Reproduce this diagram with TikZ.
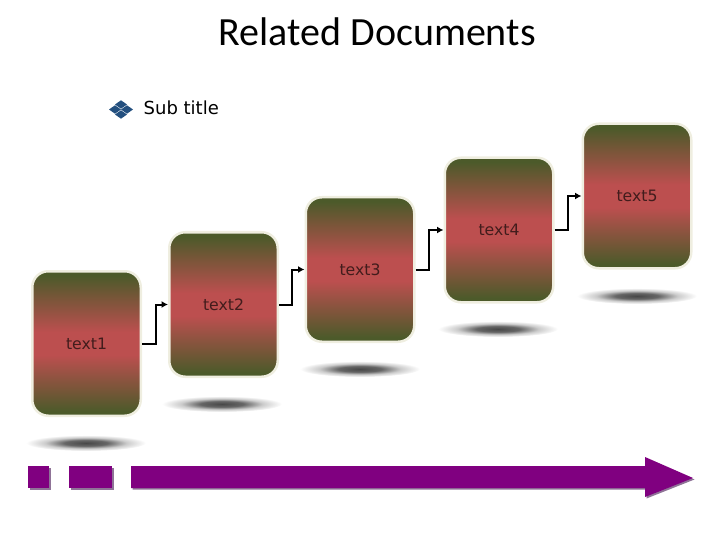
\documentclass[tikz,border=0pt]{standalone}
\usepackage{fontspec}
\setmainfont{DejaVu Sans}
\newfontfamily\titlefont{Carlito}
\usetikzlibrary{arrows.meta}
\definecolor{boxgreen}{HTML}{4C5A2A}
\definecolor{boxred}{HTML}{BC4F4F}
\definecolor{boxrim}{HTML}{EFEEE0}
\definecolor{barpurple}{HTML}{800080}
\definecolor{barshadow}{HTML}{8F7397}
\definecolor{iconblue}{HTML}{24507F}
\pgfdeclareverticalshading{boxfade}{100bp}{color(0bp)=(boxgreen); color(26.5bp)=(boxgreen); color(46bp)=(boxred); color(54bp)=(boxred); color(73.5bp)=(boxgreen); color(100bp)=(boxgreen)}
\pgfdeclareradialshading{floorfade}{\pgfpoint{0bp}{0bp}}{color(0bp)=(black!72); color(9bp)=(black!60); color(17bp)=(black!20); color(25bp)=(white); color(50bp)=(white)}
\tikzset{
  stepbox/.style={rounded corners=16pt,draw=boxrim,line width=2.5pt,shading=boxfade,
    minimum width=108.5pt,minimum height=144.5pt,inner sep=0pt,text=black!65!boxred,
    font=\fontsize{15.7}{18}\selectfont},
  linkarrow/.style={-{Latex[length=6.5pt,width=7pt]},line width=2pt,black},
  plainlabel/.style={inner sep=0pt,anchor=base west}
}
\begin{document}
\begin{tikzpicture}[x=1pt,y=-1pt]
  \useasboundingbox (0,0) rectangle (720,540);

  \node[plainlabel,font=\titlefont\fontsize{40}{44}\selectfont] (title) at (218.5,46) {Related Documents};
  \node[plainlabel,font=\fontsize{18}{20}\selectfont] (subtitle) at (143.5,115) {Sub title};

  % small icon
  \foreach \cx/\cy in {121/104.5,115/109.5,127/109.5,121/114.5}
    \fill[iconblue] (\cx-6,\cy) -- (\cx,\cy-4.2) -- (\cx+6,\cy) -- (\cx,\cy+4.2) -- cycle;

  % shadows below the boxes
  \foreach \cx/\cy in {86/443,222/404,360/369,498/329,637/296}
    \shade[shading=floorfade] (\cx,\cy) ellipse [x radius=60,y radius=8];

  \node[stepbox] (text1) at (86.5,343.5) {text1};
  \node[stepbox] (text2) at (223.5,304.5) {text2};
  \node[stepbox] (text3) at (360,269.5) {text3};
  \node[stepbox] (text4) at (499,230) {text4};
  \node[stepbox] (text5) at (637,196) {text5};

  \draw[linkarrow] (text1.east) -- ++(13.5,0) |- (text2.west);
  \draw[linkarrow] (text2.east) -- ++(13,0) |- (text3.west);
  \draw[linkarrow] (text3.east) -- ++(13.5,0) |- (text4.west);
  \draw[linkarrow] (text4.east) -- ++(13,0) |- (text5.west);

  % bottom bar
  \begin{scope}[shift={(1.5,1.5)}]
    \fill[barshadow] (28,466) rectangle (49,488);
    \fill[barshadow] (69,466) rectangle (112,488);
    \fill[barshadow] (131,466) -- (645,466) -- (645,457) -- (693,478) -- (645,497) -- (645,488) -- (131,488) -- cycle;
  \end{scope}
  \fill[barpurple] (28,466) rectangle (49,488);
  \fill[barpurple] (69,466) rectangle (112,488);
  \fill[barpurple] (131,466) -- (645,466) -- (645,457) -- (693,478) -- (645,497) -- (645,488) -- (131,488) -- cycle;
\end{tikzpicture}
\end{document}
